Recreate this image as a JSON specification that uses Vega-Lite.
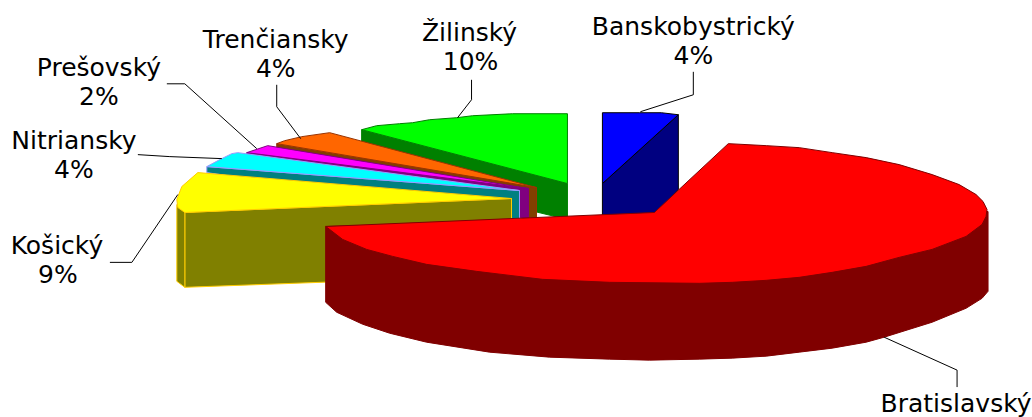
{"$schema":"https://vega.github.io/schema/vega-lite/v6.json","width":1032,"height":417,"autosize":{"type":"fit","contains":"padding"},"padding":0,"background":"white","view":{"stroke":null},
"datasets":{
"shapes":[
{"part":"Žilinský side","i":0,"x":362,"y":130},{"part":"Žilinský side","i":1,"x":568,"y":184},{"part":"Žilinský side","i":2,"x":568,"y":220},{"part":"Žilinský side","i":3,"x":362,"y":170},{"part":"Žilinský side","i":4,"x":362,"y":130},
{"part":"Žilinský face","i":0,"x":362,"y":130},{"part":"Žilinský face","i":1,"x":377,"y":126},{"part":"Žilinský face","i":2,"x":400,"y":124},{"part":"Žilinský face","i":3,"x":413,"y":123},{"part":"Žilinský face","i":4,"x":430,"y":120},{"part":"Žilinský face","i":5,"x":457,"y":118},{"part":"Žilinský face","i":6,"x":473,"y":116},{"part":"Žilinský face","i":7,"x":513,"y":114},{"part":"Žilinský face","i":8,"x":568,"y":114},{"part":"Žilinský face","i":9,"x":568,"y":184},{"part":"Žilinský face","i":10,"x":362,"y":130},
{"part":"Trenčiansky side","i":0,"x":277,"y":144},{"part":"Trenčiansky side","i":1,"x":537,"y":188},{"part":"Trenčiansky side","i":2,"x":537,"y":220},{"part":"Trenčiansky side","i":3,"x":277,"y":150},{"part":"Trenčiansky side","i":4,"x":277,"y":144},
{"part":"Trenčiansky face","i":0,"x":277,"y":144},{"part":"Trenčiansky face","i":1,"x":285,"y":141},{"part":"Trenčiansky face","i":2,"x":302,"y":137},{"part":"Trenčiansky face","i":3,"x":330,"y":133},{"part":"Trenčiansky face","i":4,"x":537,"y":188},{"part":"Trenčiansky face","i":5,"x":277,"y":144},
{"part":"Prešovský side","i":0,"x":247,"y":153},{"part":"Prešovský side","i":1,"x":529,"y":189},{"part":"Prešovský side","i":2,"x":529,"y":220},{"part":"Prešovský side","i":3,"x":247,"y":158},{"part":"Prešovský side","i":4,"x":247,"y":153},
{"part":"Prešovský face","i":0,"x":247,"y":153},{"part":"Prešovský face","i":1,"x":268,"y":146},{"part":"Prešovský face","i":2,"x":529,"y":189},{"part":"Prešovský face","i":3,"x":247,"y":153},
{"part":"Nitriansky side","i":0,"x":207,"y":167},{"part":"Nitriansky side","i":1,"x":520,"y":191},{"part":"Nitriansky side","i":2,"x":520,"y":220},{"part":"Nitriansky side","i":3,"x":207,"y":173},{"part":"Nitriansky side","i":4,"x":207,"y":167},
{"part":"Nitriansky face","i":0,"x":207,"y":167},{"part":"Nitriansky face","i":1,"x":220,"y":160},{"part":"Nitriansky face","i":2,"x":232,"y":154},{"part":"Nitriansky face","i":3,"x":238,"y":153},{"part":"Nitriansky face","i":4,"x":520,"y":191},{"part":"Nitriansky face","i":5,"x":207,"y":167},
{"part":"Košický side","i":0,"x":185,"y":213},{"part":"Košický side","i":1,"x":512,"y":199},{"part":"Košický side","i":2,"x":512,"y":276},{"part":"Košický side","i":3,"x":185,"y":288},{"part":"Košický side","i":4,"x":185,"y":213},
{"part":"Košický edge","i":0,"x":177,"y":205},{"part":"Košický edge","i":1,"x":185,"y":213},{"part":"Košický edge","i":2,"x":185,"y":288},{"part":"Košický edge","i":3,"x":177,"y":282},{"part":"Košický edge","i":4,"x":177,"y":205},
{"part":"Košický face","i":0,"x":198,"y":173},{"part":"Košický face","i":1,"x":512,"y":199},{"part":"Košický face","i":2,"x":185,"y":213},{"part":"Košický face","i":3,"x":178,"y":208},{"part":"Košický face","i":4,"x":177,"y":200},{"part":"Košický face","i":5,"x":182,"y":187},{"part":"Košický face","i":6,"x":198,"y":173},
{"part":"Banskobystrický side","i":0,"x":679,"y":115},{"part":"Banskobystrický side","i":1,"x":603,"y":184},{"part":"Banskobystrický side","i":2,"x":603,"y":216},{"part":"Banskobystrický side","i":3,"x":656,"y":214},{"part":"Banskobystrický side","i":4,"x":679,"y":190},{"part":"Banskobystrický side","i":5,"x":679,"y":115},
{"part":"Banskobystrický face","i":0,"x":603,"y":113},{"part":"Banskobystrický face","i":1,"x":640,"y":113},{"part":"Banskobystrický face","i":2,"x":662,"y":113},{"part":"Banskobystrický face","i":3,"x":679,"y":115},{"part":"Banskobystrický face","i":4,"x":603,"y":184},{"part":"Banskobystrický face","i":5,"x":603,"y":113},
{"part":"Bratislavský side","i":0,"x":326,"y":227},{"part":"Bratislavský side","i":1,"x":989,"y":212},{"part":"Bratislavský side","i":2,"x":989,"y":292},{"part":"Bratislavský side","i":3,"x":983,"y":299},{"part":"Bratislavský side","i":4,"x":967,"y":309},{"part":"Bratislavský side","i":5,"x":933,"y":323},{"part":"Bratislavský side","i":6,"x":885,"y":338},{"part":"Bratislavský side","i":7,"x":867,"y":343},{"part":"Bratislavský side","i":8,"x":833,"y":349},{"part":"Bratislavský side","i":9,"x":800,"y":353},{"part":"Bratislavský side","i":10,"x":767,"y":357},{"part":"Bratislavský side","i":11,"x":733,"y":359},{"part":"Bratislavský side","i":12,"x":700,"y":360},{"part":"Bratislavský side","i":13,"x":650,"y":361},{"part":"Bratislavský side","i":14,"x":610,"y":360},{"part":"Bratislavský side","i":15,"x":550,"y":358},{"part":"Bratislavský side","i":16,"x":490,"y":353},{"part":"Bratislavský side","i":17,"x":427,"y":343},{"part":"Bratislavský side","i":18,"x":390,"y":334},{"part":"Bratislavský side","i":19,"x":363,"y":325},{"part":"Bratislavský side","i":20,"x":337,"y":313},{"part":"Bratislavský side","i":21,"x":326,"y":303},{"part":"Bratislavský side","i":22,"x":326,"y":227},
{"part":"Bratislavský face","i":0,"x":326,"y":227},{"part":"Bratislavský face","i":1,"x":655,"y":213},{"part":"Bratislavský face","i":2,"x":729,"y":144},{"part":"Bratislavský face","i":3,"x":767,"y":146},{"part":"Bratislavský face","i":4,"x":800,"y":148},{"part":"Bratislavský face","i":5,"x":833,"y":153},{"part":"Bratislavský face","i":6,"x":867,"y":158},{"part":"Bratislavský face","i":7,"x":900,"y":165},{"part":"Bratislavský face","i":8,"x":933,"y":175},{"part":"Bratislavský face","i":9,"x":960,"y":185},{"part":"Bratislavský face","i":10,"x":977,"y":195},{"part":"Bratislavský face","i":11,"x":984,"y":202},{"part":"Bratislavský face","i":12,"x":988,"y":210},{"part":"Bratislavský face","i":13,"x":987,"y":217},{"part":"Bratislavský face","i":14,"x":983,"y":225},{"part":"Bratislavský face","i":15,"x":967,"y":237},{"part":"Bratislavský face","i":16,"x":933,"y":250},{"part":"Bratislavský face","i":17,"x":900,"y":258},{"part":"Bratislavský face","i":18,"x":867,"y":267},{"part":"Bratislavský face","i":19,"x":833,"y":273},{"part":"Bratislavský face","i":20,"x":800,"y":278},{"part":"Bratislavský face","i":21,"x":767,"y":281},{"part":"Bratislavský face","i":22,"x":733,"y":283},{"part":"Bratislavský face","i":23,"x":700,"y":284},{"part":"Bratislavský face","i":24,"x":610,"y":283},{"part":"Bratislavský face","i":25,"x":543,"y":280},{"part":"Bratislavský face","i":26,"x":477,"y":272},{"part":"Bratislavský face","i":27,"x":427,"y":265},{"part":"Bratislavský face","i":28,"x":393,"y":257},{"part":"Bratislavský face","i":29,"x":367,"y":250},{"part":"Bratislavský face","i":30,"x":343,"y":240},{"part":"Bratislavský face","i":31,"x":330,"y":230},{"part":"Bratislavský face","i":32,"x":326,"y":227}
],
"leaders":[
{"region":"Bratislavský","i":0,"x":885,"y":338},{"region":"Bratislavský","i":1,"x":958,"y":371},{"region":"Bratislavský","i":2,"x":958,"y":388},
{"region":"Banskobystrický","i":0,"x":641,"y":112},{"region":"Banskobystrický","i":1,"x":694,"y":95},{"region":"Banskobystrický","i":2,"x":694,"y":72},
{"region":"Žilinský","i":0,"x":458,"y":118},{"region":"Žilinský","i":1,"x":472,"y":100},{"region":"Žilinský","i":2,"x":472,"y":80},
{"region":"Trenčiansky","i":0,"x":301,"y":139},{"region":"Trenčiansky","i":1,"x":277,"y":107},{"region":"Trenčiansky","i":2,"x":277,"y":85},
{"region":"Prešovský","i":0,"x":257,"y":149},{"region":"Prešovský","i":1,"x":185,"y":84},{"region":"Prešovský","i":2,"x":167,"y":84},
{"region":"Nitriansky","i":0,"x":222,"y":159},{"region":"Nitriansky","i":1,"x":170,"y":157},{"region":"Nitriansky","i":2,"x":138,"y":155},
{"region":"Košický","i":0,"x":178,"y":195},{"region":"Košický","i":1,"x":132,"y":263},{"region":"Košický","i":2,"x":110,"y":263}
],
"labels":[
{"text":"Banskobystrický","x":694,"y":27},{"text":"4%","x":694,"y":56},
{"text":"Žilinský","x":470,"y":33},{"text":"10%","x":471,"y":62},
{"text":"Trenčiansky","x":276,"y":40},{"text":"4%","x":276,"y":69},
{"text":"Prešovský","x":99,"y":68},{"text":"2%","x":99,"y":97},
{"text":"Nitriansky","x":74,"y":141},{"text":"4%","x":74,"y":170},
{"text":"Košický","x":57,"y":247},{"text":"9%","x":58,"y":276},
{"text":"Bratislavský","x":957,"y":405}
]},
"layer":[
{"data":{"name":"shapes"},"mark":{"type":"line","clip":true},"encoding":{
"x":{"field":"x","type":"quantitative","scale":{"domain":[0,1032],"nice":false,"zero":false},"axis":null},
"y":{"field":"y","type":"quantitative","scale":{"domain":[417,0],"nice":false,"zero":false},"axis":null},
"order":{"field":"i","type":"quantitative"},
"detail":{"field":"part","type":"nominal"},
"fill":{"field":"part","type":"nominal","legend":null,"scale":{"domain":["Žilinský side","Žilinský face","Trenčiansky side","Trenčiansky face","Prešovský side","Prešovský face","Nitriansky side","Nitriansky face","Košický side","Košický edge","Košický face","Banskobystrický side","Banskobystrický face","Bratislavský side","Bratislavský face"],"range":["#008000","#00ff00","#804000","#ff6600","#800080","#ff00ff","#008080","#00ffff","#808000","#808000","#ffff00","#000080","#0000ff","#800000","#ff0000"]}},
"stroke":{"field":"part","type":"nominal","legend":null,"scale":{"domain":["Žilinský side","Žilinský face","Trenčiansky side","Trenčiansky face","Prešovský side","Prešovský face","Nitriansky side","Nitriansky face","Košický side","Košický edge","Košický face","Banskobystrický side","Banskobystrický face","Bratislavský side","Bratislavský face"],"range":["#008000","#008000","#993300","#993300","#800080","#800080","#9999ff","#9999ff","#ffcc00","#ffcc00","#ffcc00","#000000","#000000","#800000","#800000"]}},
"strokeWidth":{"field":"part","type":"nominal","legend":null,"scale":{"domain":["Žilinský side","Žilinský face","Trenčiansky side","Trenčiansky face","Prešovský side","Prešovský face","Nitriansky side","Nitriansky face","Košický side","Košický edge","Košický face","Banskobystrický side","Banskobystrický face","Bratislavský side","Bratislavský face"],"range":[1,1,1.5,1.5,1.5,1.5,2,2,2.5,2.5,2.5,2,2,1,1.5]}}
}},
{"data":{"name":"leaders"},"mark":{"type":"line","stroke":"#000000","strokeWidth":1,"clip":true},"encoding":{
"x":{"field":"x","type":"quantitative","scale":{"domain":[0,1032],"nice":false,"zero":false},"axis":null},"y":{"field":"y","type":"quantitative","scale":{"domain":[417,0],"nice":false,"zero":false},"axis":null},
"order":{"field":"i","type":"quantitative"},"detail":{"field":"region","type":"nominal"}}},
{"data":{"name":"labels"},"mark":{"type":"text","font":"DejaVu Sans","fontSize":25,"align":"center","baseline":"middle","color":"#000000"},"encoding":{
"x":{"field":"x","type":"quantitative","scale":{"domain":[0,1032],"nice":false,"zero":false},"axis":null},"y":{"field":"y","type":"quantitative","scale":{"domain":[417,0],"nice":false,"zero":false},"axis":null},"text":{"field":"text","type":"nominal"}}}
]}
